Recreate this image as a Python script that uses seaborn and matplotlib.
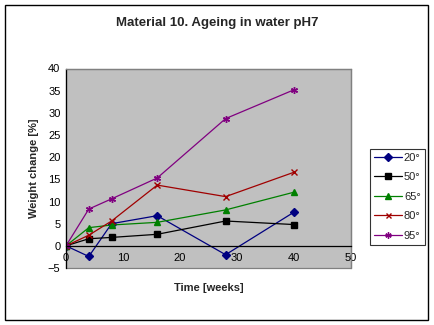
import matplotlib
matplotlib.use("Agg")
import matplotlib.pyplot as plt
import seaborn as sns
import pandas as pd
from matplotlib.patches import Rectangle

weeks = [0, 4, 8, 16, 28, 40]
series_names = ["20°", "50°", "65°", "80°", "95°"]
s20 = [0, -2.4, 5.0, 6.8, -2.0, 7.6]
s50 = [0, 1.6, 1.9, 2.6, 5.6, 4.8]
s65 = [0, 4.1, 4.7, 5.3, 8.1, 12.1]
s80 = [0, 2.4, 5.6, 13.7, 11.1, 16.6]
s95 = [0, 8.3, 10.6, 15.3, 28.7, 35.2]
values = [s20, s50, s65, s80, s95]

colors = ["#000080", "#000000", "#008000", "#A00000", "#800080"]
markers = ["D", "s", "^", "x", (6, 2, 0)]
msizes = [4, 4.5, 5, 4, 5]

rows = []
for name, vals in zip(series_names, values):
    for w, v in zip(weeks, vals):
        rows.append({"Time": w, "Change": v, "Series": name})
df = pd.DataFrame(rows)

sns.set_theme(style="white")
plt.rcParams["font.family"] = ["Liberation Sans", "DejaVu Sans"]

fig = plt.figure(figsize=(4.34, 3.25), dpi=100)
ax = fig.add_axes([66/434, 1-268/325, (351-66)/434, (268-68.5)/325])
ax.set_facecolor("#C0C0C0")

for name, col, mk, ms in zip(series_names, colors, markers, msizes):
    sub = df[df["Series"] == name]
    sns.lineplot(data=sub, x="Time", y="Change", ax=ax, color=col, marker=mk,
                 markersize=ms, markeredgecolor=col, markerfacecolor=col,
                 markeredgewidth=1.0, linewidth=0.9, label=name, legend=False)

ax.set_xlim(0, 50)
ax.set_ylim(-5, 40)
ax.set_xticks(range(0, 51, 10))
ax.set_yticks(range(-5, 41, 5))
ax.tick_params(axis="both", labelsize=8, colors="black", length=3, width=0.8, pad=1)
ax.tick_params(axis="x", direction="inout", length=5, pad=3)
ax.tick_params(axis="y", direction="out")

ax.spines["bottom"].set_position(("data", 0))
ax.spines["bottom"].set_color("black")
ax.spines["bottom"].set_linewidth(0.9)
ax.spines["left"].set_color("black")
ax.spines["left"].set_linewidth(0.9)
ax.spines["top"].set_color("#808080")
ax.spines["right"].set_color("#808080")
ax.spines["top"].set_linewidth(0.9)
ax.spines["right"].set_linewidth(0.9)

ax.set_xlabel("")
ax.set_ylabel("")
fig.text(208.5/434, 1-288/325, "Time [weeks]", ha="center", va="center",
         fontsize=8, fontweight="bold")
fig.text(34/434, 1-168/325, "Weight change [%]", ha="center", va="center",
         rotation=90, fontsize=8, fontweight="bold")
fig.text(217/434, 1-23/325, "Material 10. Ageing in water pH7", ha="center",
         va="center", fontsize=9.5, fontweight="bold")

# bottom border of plot area
ax.add_patch(Rectangle((0, -5), 50, 45, fill=False, edgecolor="#808080",
                       linewidth=0.9, zorder=0.5, clip_on=False))

handles, labels = ax.get_legend_handles_labels()
leg = fig.legend(handles, labels, loc="upper left",
                 bbox_to_anchor=(370/434, 1-149/325), frameon=True,
                 fontsize=8, fancybox=False, handlelength=2.5, borderpad=0.35,
                 labelspacing=0.85, handletextpad=0.2, borderaxespad=0,
                 markerscale=0.9)
leg.get_frame().set_edgecolor("black")
leg.get_frame().set_linewidth(0.8)
leg.get_frame().set_facecolor("white")

fig.patches.append(Rectangle((5/434, 1-320/325), 423/434, 315/325,
                             transform=fig.transFigure, fill=False,
                             edgecolor="black", linewidth=1.0))

fig.savefig("out.png", dpi=100)
